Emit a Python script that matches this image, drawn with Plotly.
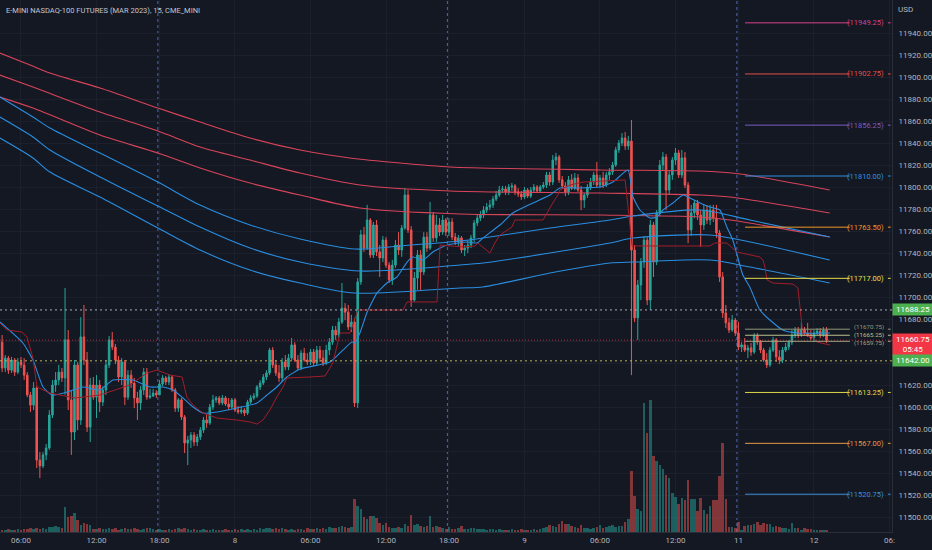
import plotly.graph_objects as go

# ---------------- data (15-min bars, bar index 0 = 06:00 of day 7) ----------------
bar_start = -6
first_open = 11659.0

closes = [
    11635.5, 11644.5, 11633.5, 11642.75, 11631.75, 11641, 11638.25, 11629, 11611, 11601.75,
    11617.25, 11551.75, 11546.5, 11556.5, 11562.75, 11592.75, 11620, 11624.5, 11631.75, 11626.5,
    11661, 11606.5, 11577.25, 11638.25, 11588.25, 11663.75, 11642.75, 11581.75, 11620, 11609,
    11620, 11604.5, 11615.5, 11638.25, 11661, 11654.5, 11642.75, 11627.25, 11641, 11609,
    11629, 11621.75, 11608.25, 11603.75, 11615.5, 11631.75, 11609, 11610, 11612.75, 11611,
    11621, 11626.5, 11622.75, 11627.25, 11615.5, 11599, 11606.5, 11591, 11567.25, 11570,
    11574.5, 11568.25, 11572.75, 11579, 11588.25, 11585.5, 11600, 11606.5, 11608.25, 11603.75,
    11608.25, 11602.75, 11600, 11606.5, 11597.25, 11595.5, 11597.25, 11594.5, 11604.5, 11608.25,
    11610, 11618.25, 11621.75, 11627.25, 11631, 11651.75, 11638.25, 11631, 11626.5, 11641,
    11636.5, 11644.5, 11656.5, 11642.75, 11635.5, 11649, 11642.75, 11641, 11650, 11640,
    11651.75, 11644.5, 11640, 11651.75, 11659, 11670, 11665.5, 11677.25, 11690, 11686.25,
    11672.75, 11677.25, 11603.75, 11713.75, 11756.5, 11744.5, 11770, 11738.25, 11765.5, 11741,
    11735.5, 11751.75, 11729, 11715.5, 11729, 11747.25, 11742.75, 11762.75, 11792.75, 11761,
    11697.25, 11717.25, 11738.25, 11722.75, 11754.5, 11744.5, 11774.5, 11753.75, 11765.5, 11759,
    11770, 11759, 11768.25, 11754.5, 11750, 11753.75, 11742.75, 11744.5, 11747.25, 11753.75,
    11767.25, 11771.75, 11774.5, 11779, 11781.75, 11783.75, 11789, 11792.75, 11797.25, 11798.25,
    11795.5, 11800, 11801, 11795.5, 11793.75, 11791, 11797.25, 11791.75, 11797.25, 11800,
    11796.5, 11800, 11801.75, 11811, 11804.5, 11824.5, 11827.25, 11806.5, 11801, 11795.5,
    11806.5, 11799, 11808.25, 11797.25, 11788.25, 11792.75, 11800, 11804.5, 11811, 11801.75,
    11808.25, 11801.75, 11811, 11813.75, 11820, 11833.75, 11840, 11844.5, 11837.25, 11841.75,
    11742.75, 11681, 11711, 11731.75, 11751.75, 11697.25, 11765.5, 11731.75, 11776.5, 11820,
    11827.25, 11797.25, 11811, 11824.5, 11831, 11811, 11826.5, 11801.75, 11761, 11776.5,
    11785.5, 11774.5, 11765.5, 11779, 11770, 11779, 11771.75, 11758.25, 11718.25, 11685.5,
    11676.5, 11670, 11679, 11667.25, 11654.5, 11656.5, 11651.75, 11653.75, 11650, 11664.5,
    11659, 11651.75, 11642.75, 11638.25, 11651.75, 11661, 11645.5, 11642.75, 11651.75, 11654.5,
    11659, 11665.5, 11670, 11665.5, 11670, 11667.25, 11665.5, 11662.75, 11667.25, 11669,
    11665.5, 11670, 11660.75,
]

highs = [
    11665.5, 11647.25, 11646.5, 11645.5, 11644.5, 11644.5, 11645.5, 11644.5, 11631.75, 11613.75,
    11622.75, 11619, 11559, 11559, 11566.5, 11597.25, 11624.5, 11631.75, 11638.25, 11635.5,
    11708.25, 11670, 11615.5, 11642.75, 11641, 11681.75, 11692.75, 11650, 11626.5, 11627.25,
    11629, 11624.5, 11619, 11642.75, 11664.5, 11668.25, 11657.25, 11646.5, 11644.5, 11642.75,
    11633.5, 11633.5, 11626.5, 11613.75, 11619, 11635.5, 11635.5, 11616.5, 11616.5, 11615.5,
    11624.5, 11629, 11628.25, 11630, 11629, 11617.25, 11608.25, 11608.25, 11592.75, 11573.75,
    11577.25, 11577.25, 11575.5, 11581.75, 11591, 11592.75, 11602.75, 11611, 11610, 11610,
    11611, 11610, 11608.25, 11608.25, 11608.25, 11601, 11601, 11599, 11606.5, 11611,
    11612.75, 11620, 11624.5, 11630, 11633.5, 11653.75, 11654.5, 11642.75, 11638.25, 11644.5,
    11647.25, 11648.25, 11662.75, 11659, 11647.25, 11651.75, 11653.75, 11649, 11652.75, 11652.75,
    11655.5, 11655.5, 11651.75, 11656.5, 11662.75, 11673.75, 11673.75, 11681, 11712.75, 11694.5,
    11692.75, 11683.75, 11681, 11717.25, 11761, 11763.75, 11783.75, 11771.75, 11768.25, 11770,
    11747.25, 11755.5, 11754.5, 11731.75, 11733.75, 11751.75, 11759, 11765.5, 11799, 11797.25,
    11764.5, 11722.75, 11742.75, 11742.75, 11759, 11759, 11786.5, 11777.25, 11774.5, 11771.75,
    11774.5, 11771.75, 11771.75, 11771.75, 11758.25, 11756.5, 11755.5, 11747.25, 11751.75, 11756.5,
    11770, 11775.5, 11778.25, 11782.75, 11785.5, 11788.25, 11791.75, 11796.5, 11801, 11801,
    11801, 11802.75, 11803.75, 11802.75, 11799, 11796.5, 11800, 11799, 11800, 11802.75,
    11801.75, 11801.75, 11804.5, 11813.75, 11813.75, 11829, 11831, 11829, 11810, 11804.5,
    11810, 11811.75, 11812.75, 11811.75, 11801, 11794.5, 11802.75, 11808.25, 11813.75, 11822.75,
    11811, 11813.75, 11813.75, 11817.25, 11822.75, 11836.5, 11842.75, 11849, 11850, 11846.5,
    11861, 11747.25, 11715.5, 11735.5, 11755.5, 11754.5, 11770, 11768.25, 11779, 11824.5,
    11831.75, 11830, 11815.5, 11827.25, 11835.5, 11833.75, 11833.75, 11831.75, 11804.5, 11783.75,
    11788.25, 11788.25, 11779, 11783.75, 11783.75, 11783.75, 11783.75, 11783.75, 11761, 11722.75,
    11692.75, 11681, 11683.75, 11681, 11677.25, 11659, 11662.75, 11656.5, 11658.25, 11667.25,
    11667.25, 11661, 11653.75, 11649, 11654.5, 11663.75, 11662.75, 11651.75, 11654.5, 11658.25,
    11661, 11670, 11672.75, 11672.75, 11677.25, 11672.75, 11676.5, 11670, 11670, 11671.75,
    11671.75, 11672.75, 11672.75,
]

lows = [
    11631.75, 11631.75, 11630, 11631, 11628.25, 11630, 11635.5, 11624.5, 11609, 11595.5,
    11597.25, 11544.5, 11535.5, 11544.5, 11551.75, 11561, 11590, 11613.75, 11620, 11622.75,
    11611, 11597.25, 11556.5, 11570, 11579, 11583.75, 11638.25, 11577.25, 11568.25, 11606.5,
    11590, 11595.5, 11601, 11611, 11635.5, 11651.75, 11639, 11622.75, 11620, 11601.75,
    11606.5, 11617.25, 11599, 11588.25, 11597.25, 11611, 11606.5, 11607.25, 11609, 11608.25,
    11611, 11619, 11620, 11620, 11613.75, 11595.5, 11595.5, 11588.25, 11558.25, 11547.25,
    11562.75, 11564.5, 11564.5, 11570, 11576.5, 11581, 11583.75, 11597.25, 11603.75, 11601.75,
    11601.75, 11601, 11597.25, 11598.25, 11595.5, 11593.75, 11593.75, 11591.75, 11592.75, 11602.75,
    11606.5, 11608.25, 11615.5, 11620, 11624.5, 11629, 11635.5, 11628.25, 11622.75, 11622.75,
    11633.5, 11633.5, 11642.75, 11641, 11633.5, 11633.5, 11641, 11638.25, 11638.25, 11637.25,
    11637.25, 11641, 11637.25, 11638.25, 11647.25, 11656.5, 11661, 11662.75, 11675.5, 11679,
    11670, 11668.25, 11600, 11599, 11711, 11741, 11742.75, 11735.5, 11735.5, 11737.25,
    11718.25, 11731.75, 11726.5, 11712.75, 11711, 11726.5, 11738.25, 11736.5, 11761, 11758.25,
    11691, 11695.5, 11706.5, 11706.5, 11720, 11741, 11742.75, 11750, 11750, 11755.5,
    11756.5, 11755.5, 11755.5, 11751.75, 11747.25, 11746.5, 11740, 11737.25, 11740, 11744.5,
    11750, 11764.5, 11769, 11771.75, 11776.5, 11779, 11781, 11787.25, 11791, 11794.5,
    11792.75, 11792.75, 11796.5, 11792.75, 11791, 11788.25, 11789, 11790, 11790, 11794.5,
    11794.5, 11794.5, 11798.25, 11799, 11801, 11801.75, 11820, 11803.75, 11798.25, 11791.75,
    11792.75, 11797.25, 11797.25, 11795.5, 11779, 11781, 11790, 11797.25, 11801.75, 11800,
    11799, 11799, 11800, 11806.5, 11811, 11818.25, 11831, 11837.25, 11833.75, 11833.75,
    11629, 11677.25, 11661, 11697.25, 11726.5, 11692.75, 11688.25, 11718.25, 11729, 11773.75,
    11815.5, 11779, 11792.75, 11806.5, 11820, 11808.25, 11808.25, 11799, 11749, 11755.5,
    11771.75, 11770, 11745.5, 11761, 11766.5, 11765.5, 11768.25, 11753.75, 11713.75, 11681,
    11671.75, 11667.25, 11668.25, 11664.5, 11651.75, 11650, 11650, 11644.5, 11646.5, 11648.25,
    11656.5, 11649, 11641, 11635.5, 11636.5, 11650, 11641, 11639, 11640, 11650,
    11651.75, 11656.5, 11662.75, 11662.75, 11663.75, 11664.5, 11663.75, 11661, 11659, 11665.5,
    11662.75, 11663.75, 11658.25,
]

# volume in thousands of contracts
volume_k = [
    0.4, 0.4, 0.6, 0.4, 0.4, 0.6, 0.4, 0.6, 0.6, 0.8,
    0.6, 0.8, 0.6, 0.8, 0.6, 1.0, 1.0, 1.2, 1.0, 0.8,
    5.0, 3.0, 3.2, 3.8, 2.4, 1.4, 1.8, 1.6, 1.4, 0.6,
    0.6, 0.8, 0.6, 0.6, 0.8, 0.6, 0.8, 0.4, 0.6, 0.8,
    0.6, 0.6, 0.8, 0.6, 0.4, 0.6, 0.8, 0.8, 0.6, 0.4,
    0.6, 0.4, 0.4, 0.6, 0.4, 0.6, 0.8, 0.6, 0.8, 0.6,
    0.4, 0.6, 0.4, 0.4, 0.6, 0.4, 0.4, 0.6, 0.4, 0.4,
    0.4, 0.6, 0.4, 0.4, 0.6, 0.4, 0.6, 0.4, 0.6, 0.4,
    0.6, 0.4, 0.8, 0.6, 0.8, 0.8, 0.6, 0.8, 0.6, 0.8,
    0.6, 0.4, 0.6, 0.4, 0.6, 0.6, 0.4, 0.8, 0.6, 0.6,
    0.8, 0.6, 0.8, 0.6, 1.0, 0.8, 0.8, 1.0, 1.2, 1.0,
    0.8, 1.0, 6.6, 5.2, 4.6, 3.0, 2.6, 3.2, 3.2, 2.8,
    1.8, 1.4, 1.8, 1.0, 0.8, 0.8, 1.0, 0.8, 1.6, 1.2,
    3.4, 1.4, 1.6, 1.2, 1.0, 1.2, 3.2, 1.0, 1.2, 1.0,
    0.8, 0.6, 1.0, 0.6, 0.6, 0.8, 1.2, 0.6, 0.6, 0.8,
    0.8, 0.6, 0.6, 0.6, 0.4, 0.6, 0.6, 0.4, 0.6, 0.4,
    0.4, 0.4, 0.6, 0.4, 0.4, 0.6, 0.4, 0.4, 0.4, 0.6,
    0.4, 0.6, 0.8, 1.0, 1.4, 1.2, 1.0, 1.6, 2.2, 1.6,
    1.6, 1.2, 1.0, 0.8, 1.4, 0.8, 0.8, 0.6, 0.8, 1.0,
    1.4, 0.8, 1.0, 1.2, 1.4, 1.0, 1.2, 1.2, 2.0, 2.6,
    12.2, 7.2, 4.6, 4.2, 25.8, 19.8, 26.4, 15.2, 14.2, 13.4,
    12.6, 11.4, 10.8, 7.8, 7.0, 5.6, 6.8, 6.4, 10.4, 6.6,
    6.6, 4.2, 6.8, 4.4, 3.6, 5.2, 6.4, 6.4, 11.2, 17.8,
    6.6, 1.0, 1.0, 0.8, 2.0, 0.4, 1.2, 1.4, 1.4, 1.6,
    2.0, 1.4, 1.8, 1.6, 1.6, 1.0, 1.2, 1.0, 0.8, 0.8,
    0.6, 1.8, 0.8, 0.8, 0.4, 0.8, 0.6, 0.6, 0.4, 0.4,
    0.4, 0.4, 0.4,
]

bars = list(range(bar_start, bar_start + len(closes)))
opens = [first_open] + closes[:-1]

tick_pos = [0, 24, 44, 68, 92, 116, 136, 160, 184, 208, 228, 252, 276]
tick_text = ["06:00", "12:00", "18:00", "8", "06:00", "12:00", "18:00", "9",
             "06:00", "12:00", "11", "12", "06:"]
price_ticks = list(range(11500, 11941, 20))
hidden_price_ticks = [11660, 11640]   # covered by the price boxes on the axis
session_breaks = [43.5, 135.5, 227.5]

# slow moving averages (bar index, price)
ma_red1_x = [-6.7, 2.9, 9.2, 25.1, 43.5, 56.9, 72.8, 88.7, 104.5, 120.4, 136.3, 184.0, 215.8, 228.5, 257.0]
ma_red1_y = [11921.8, 11910.9, 11903.6, 11890.0, 11871.8, 11859.1, 11844.5, 11833.6, 11826.4, 11821.8,
             11818.2, 11815.5, 11814.5, 11811.8, 11797.3]
ma_red2_x = [-6.7, 3.8, 25.1, 43.5, 56.9, 72.8, 88.7, 107.7, 136.3, 184.0, 215.8, 225.3, 257.0]
ma_red2_y = [11901.8, 11890.9, 11868.2, 11850.9, 11836.4, 11824.5, 11812.7, 11801.8, 11796.4, 11794.5,
             11792.7, 11790.9, 11776.4]
ma_red3_x = [-6.7, 3.8, 25.1, 43.5, 56.9, 72.8, 88.7, 107.7, 139.5, 184.0, 215.8, 225.3, 257.0]
ma_red3_y = [11881.8, 11871.8, 11847.3, 11830.9, 11817.3, 11803.6, 11792.7, 11780.9, 11775.5, 11774.5,
             11772.7, 11770.0, 11754.5]
ma_blue1_x = [-6.7, 3.8, 9.2, 25.1, 43.5, 56.9, 72.8, 88.7, 106.1, 120.4, 139.5, 146.8, 168.1, 187.2,
              194.5, 215.8, 231.7, 257.0]
ma_blue1_y = [11881.8, 11863.6, 11853.6, 11830.9, 11804.5, 11783.6, 11765.5, 11752.7, 11743.6, 11746.4,
              11750.9, 11753.6, 11762.7, 11770.0, 11773.6, 11779.1, 11770.0, 11754.5]
ma_blue2_x = [-6.7, 3.8, 9.2, 25.1, 43.5, 56.9, 72.8, 88.7, 107.7, 139.5, 146.8, 168.1, 187.2, 194.5,
              218.9, 231.7, 257.0]
ma_blue2_y = [11863.6, 11845.5, 11833.6, 11809.1, 11782.7, 11763.6, 11744.5, 11731.8, 11723.6, 11729.1,
              11730.9, 11740.0, 11749.1, 11753.6, 11756.4, 11750.0, 11733.6]
ma_blue3_x = [-6.7, 3.8, 9.2, 25.1, 43.5, 56.9, 72.8, 88.7, 106.1, 139.5, 146.8, 168.1, 187.2, 194.5,
              218.9, 231.7, 257.0]
ma_blue3_y = [11844.5, 11826.4, 11813.6, 11790.9, 11762.7, 11742.7, 11724.5, 11712.7, 11703.6, 11708.2,
              11709.1, 11721.8, 11730.9, 11731.8, 11733.6, 11727.3, 11712.7]

# fast moving average
ma_fast_x = [-6.7, 0.6, 3.8, 7.0, 9.9, 14.6, 19.7, 25.1, 29.2, 35.6, 41.0, 45.1, 48.3, 51.5, 54.7, 57.8,
             62.3, 68.6, 75.0, 78.2, 81.3, 84.5, 88.7, 98.2, 102.3, 105.2, 106.1, 107.7, 109.9, 113.1,
             116.3, 119.5, 122.7, 124.6, 127.7, 130.9, 135.4, 141.7, 144.9, 146.8, 152.2, 156.3, 162.7,
             168.1, 171.3, 176.7, 184.0, 188.1, 192.9, 194.5, 196.7, 199.9, 202.1, 204.0, 207.2, 210.4,
             212.6, 215.8, 218.9, 222.1, 224.3, 226.2, 229.4, 231.6, 234.8, 238.0, 242.1, 246.6, 257.1]
ma_fast_y = [11677.3, 11658.2, 11642.7, 11618.2, 11610.9, 11613.6, 11618.2, 11615.5, 11624.5, 11624.5,
             11618.2, 11618.2, 11615.5, 11608.2, 11600.0, 11594.5, 11595.5, 11599.1, 11603.6, 11610.9,
             11618.2, 11627.3, 11634.5, 11640.9, 11651.8, 11659.1, 11658.2, 11667.3, 11685.5, 11703.6,
             11712.7, 11718.2, 11731.8, 11736.4, 11733.6, 11740.9, 11747.3, 11750.0, 11749.1, 11753.6,
             11765.5, 11776.4, 11785.5, 11792.7, 11799.1, 11799.1, 11800.0, 11804.5, 11815.5, 11790.9,
             11779.1, 11771.8, 11772.7, 11779.1, 11785.5, 11792.7, 11790.0, 11785.5, 11781.8, 11779.1,
             11763.6, 11751.8, 11720.0, 11709.1, 11688.2, 11679.1, 11670.0, 11667.3, 11667.3]

# thin stepped line
step_x = [-6.7, -4.4, 0.3, 1.9, 3.8, 5.1, 9.2, 17.2, 25.1, 34.6, 40.0, 43.2, 47.3, 51.2, 52.7, 54.7,
          57.8, 62.3, 68.6, 72.8, 75.0, 76.9, 79.1, 81.3, 83.3, 84.5, 91.8, 96.6, 99.1, 101.4, 104.5,
          107.1, 121.4, 122.7, 132.2, 133.2, 140.5, 144.3, 145.2, 149.0, 150.6, 152.2, 156.0, 157.0,
          165.9, 167.1, 169.0, 170.6, 171.3, 174.5, 178.6, 192.0, 194.2, 218.9, 220.5, 224.3, 227.5,
          234.8, 235.8, 236.4, 237.1, 239.0, 245.3, 246.9, 247.5, 248.2, 248.5, 251.7, 252.9, 257.1]
step_y = [11676.4, 11670.0, 11668.2, 11663.6, 11644.5, 11618.2, 11612.7, 11608.2, 11610.9, 11620.0,
          11630.9, 11633.6, 11629.1, 11627.3, 11609.1, 11601.8, 11594.5, 11590.0, 11588.2, 11586.4,
          11584.5, 11588.2, 11597.3, 11609.1, 11618.2, 11626.4, 11627.3, 11628.2, 11640.0, 11667.3,
          11667.3, 11688.2, 11688.2, 11695.5, 11695.5, 11747.3, 11745.5, 11746.4, 11749.1, 11740.0,
          11749.1, 11756.4, 11763.6, 11770.0, 11770.0, 11776.4, 11785.5, 11792.7, 11797.3, 11801.8,
          11804.5, 11806.4, 11746.4, 11746.4, 11749.1, 11749.1, 11740.9, 11736.4, 11733.6, 11727.3,
          11715.5, 11712.7, 11711.8, 11708.2, 11690.9, 11672.7, 11665.5, 11663.6, 11659.1, 11656.4]

levels = [11949.25, 11902.75, 11856.25, 11810.00, 11763.50, 11717.00,
          11670.75, 11665.25, 11659.75, 11613.25, 11567.00, 11520.75]
level_colors = ["#d6408d", "#e2504a", "#7b5cc4", "#2f8fe0", "#f0962a", "#e8e04a",
                "#8d9a78", "#b9c08a", "#a3a37f", "#e0d84a", "#e09a4a", "#3a8fd8"]
# the three tightly packed levels get a smaller label, nudged apart so they stay legible
packed_label_shift = {11670.75: 2, 11665.25: 0, 11659.75: -2}

last_price = 11660.75
marked_high = 11688.25
marked_low = 11642.00

# ---------------- figure ----------------
BG = "#141823"
GRID = "#1c202c"
TXT = "#b2b5be"
FONT = "Roboto"
UP = "#26a69a"
DN = "#ef5350"

vol_colors = ["rgba(38,166,154,0.5)" if c >= o else "rgba(239,83,80,0.5)" for o, c in zip(opens, closes)]

fig = go.Figure()
fig.add_trace(go.Bar(x=bars, y=volume_k, marker=dict(color=vol_colors, line=dict(width=0)),
                     width=0.8, yaxis="y2", hoverinfo="skip"))

fig.add_trace(go.Candlestick(
    x=bars, open=opens, high=highs, low=lows, close=closes,
    increasing=dict(line=dict(color=UP, width=1), fillcolor=UP),
    decreasing=dict(line=dict(color=DN, width=1), fillcolor=DN),
    whiskerwidth=0, hoverinfo="skip"))

for xs, ys, col in [(ma_red1_x, ma_red1_y, "#d9445a"), (ma_red2_x, ma_red2_y, "#d9445a"),
                    (ma_red3_x, ma_red3_y, "#d9445a"), (ma_blue1_x, ma_blue1_y, "#2a8ee0"),
                    (ma_blue2_x, ma_blue2_y, "#2a8ee0"), (ma_blue3_x, ma_blue3_y, "#2a8ee0")]:
    fig.add_trace(go.Scatter(x=xs, y=ys, mode="lines", line=dict(color=col, width=1.1, shape="spline",
                                                                smoothing=0.8), hoverinfo="skip"))
fig.add_trace(go.Scatter(x=ma_fast_x, y=ma_fast_y, mode="lines",
                         line=dict(color="#2a8ee0", width=1.1, shape="spline", smoothing=0.5),
                         hoverinfo="skip"))
fig.add_trace(go.Scatter(x=step_x, y=step_y, mode="lines",
                         line=dict(color="#a01e2a", width=1), hoverinfo="skip"))

shapes = []
for sb in session_breaks:
    shapes.append(dict(type="line", xref="x", yref="paper", x0=sb, x1=sb, y0=0, y1=1,
                       line=dict(color="#5566a8", width=1, dash="3px,3px"), layer="below"))
shapes.append(dict(type="line", xref="paper", yref="y", x0=0, x1=1, y0=marked_high, y1=marked_high,
                   line=dict(color="#a8abb4", width=1, dash="2px,3px")))
shapes.append(dict(type="line", xref="paper", yref="y", x0=0, x1=1, y0=marked_low, y1=marked_low,
                   line=dict(color="#b9b45a", width=1, dash="2px,3px")))
shapes.append(dict(type="line", xref="paper", yref="y", x0=0, x1=1, y0=last_price, y1=last_price,
                   line=dict(color="rgba(242,54,69,0.7)", width=1, dash="1px,2px")))

lvl_x0, lvl_x1, lbl_x = 230.1, 263.4, 274.9
annotations = []
for lv, col in zip(levels, level_colors):
    shapes.append(dict(type="line", xref="x", yref="y", x0=lvl_x0, x1=lvl_x1, y0=lv, y1=lv,
                       line=dict(color=col, width=1)))
    shapes.append(dict(type="line", xref="x", yref="y", x0=275.5, x1=276.4, y0=lv, y1=lv,
                       line=dict(color=col, width=1)))
    packed = lv in packed_label_shift
    annotations.append(dict(x=lbl_x, y=lv, xref="x", yref="y", xanchor="right", yanchor="middle",
                            text="(%.2f)" % lv, showarrow=False,
                            yshift=packed_label_shift.get(lv, 0),
                            font=dict(family=FONT, size=6.2 if packed else 7.5, color=col)))

annotations.append(dict(x=0, y=1, xref="paper", yref="paper", xanchor="left", yanchor="top",
                        xshift=4, yshift=-4, showarrow=False,
                        text="E-MINI NASDAQ-100 FUTURES (MAR 2023), 15, CME_MINI",
                        font=dict(family=FONT, size=7.5, color="#c3c6ce")))
annotations.append(dict(x=1, y=1, xref="paper", yref="paper", xanchor="left", yanchor="top",
                        xshift=4, yshift=-3, showarrow=False, text="USD",
                        font=dict(family=FONT, size=8, color=TXT)))
annotations.append(dict(x=1, y=marked_high, xref="paper", yref="y", xanchor="left", yanchor="middle",
                        showarrow=False, text="%.2f" % marked_high, bgcolor="#4caf50", width=38,
                        borderpad=1, font=dict(family=FONT, size=8, color="#ffffff")))
annotations.append(dict(x=1, y=last_price, xref="paper", yref="y", xanchor="left", yanchor="top",
                        yshift=7, showarrow=False, text="%.2f<br>05:45" % last_price, bgcolor="#f23645",
                        width=38, borderpad=1, font=dict(family=FONT, size=8, color="#ffffff")))
annotations.append(dict(x=1, y=marked_low, xref="paper", yref="y", xanchor="left", yanchor="middle",
                        showarrow=False, text="%.2f" % marked_low, bgcolor="#4caf50", width=38,
                        borderpad=1, font=dict(family=FONT, size=8, color="#ffffff")))

fig.update_layout(
    width=932, height=550,
    margin=dict(l=0, r=40, t=0, b=18, pad=0),
    paper_bgcolor=BG, plot_bgcolor=BG,
    showlegend=False,
    shapes=shapes, annotations=annotations,
    bargap=0,
    xaxis=dict(range=[-6.67, 276.8], tickvals=tick_pos, ticktext=tick_text,
               showgrid=True, gridcolor=GRID, gridwidth=1, zeroline=False,
               showline=True, linecolor="#2a2e39", ticks="",
               tickfont=dict(family=FONT, size=8, color=TXT),
               rangeslider=dict(visible=False), fixedrange=True),
    yaxis=dict(side="right", range=[11486.4, 11970], tickvals=price_ticks,
               ticktext=["" if p in hidden_price_ticks else "%.2f" % p for p in price_ticks],
               showgrid=True, gridcolor=GRID, gridwidth=1, zeroline=False,
               showline=True, linecolor="#2a2e39", ticks="", ticklabelstandoff=4,
               tickfont=dict(family=FONT, size=8, color=TXT), fixedrange=True),
    yaxis2=dict(overlaying="y", range=[0, 106.4], visible=False, fixedrange=True),
)

fig.write_html("out.html", config={"displayModeBar": False})

# remove the browser's default page margin so the 932x550 figure fills the window
with open("out.html", "r", encoding="utf-8") as fh:
    page = fh.read()
page = page.replace("<head>", "<head><style>html,body{margin:0;padding:0;overflow:hidden;"
                              "background:#141823;}</style>", 1)
with open("out.html", "w", encoding="utf-8") as fh:
    fh.write(page)
